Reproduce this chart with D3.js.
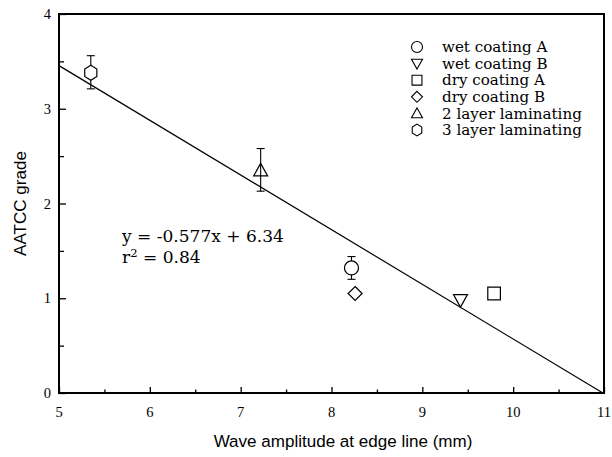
<!DOCTYPE html>
<html>
<head>
<meta charset="utf-8">
<script src="https://cdn.jsdelivr.net/npm/d3@7"></script>
<style>
    body { margin: 0; background: #fff; }
    svg { display: block; }
</style>
</head>
<body>
<div id="chart"></div>
<script>
"use strict";

// data
const seriesNames = ["wet coating A", "wet coating B", "dry coating A", "dry coating B", "2 layer laminating", "3 layer laminating"];
const seriesShapes = ["circle", "triangleDown", "square", "diamond", "triangleUp", "hexagon"];
const xValues = [8.22, 9.42, 9.79, 8.26, 7.22, 5.35];
const yValues = [1.32, 0.98, 1.05, 1.05, 2.35, 3.38];
const errLow = [1.20, null, null, null, 2.13, 3.21];
const errHigh = [1.44, null, null, null, 2.58, 3.56];

const xTicks = [5, 6, 7, 8, 9, 10, 11];
const yTicks = [0, 1, 2, 3, 4];
const fitSlope = -0.577;
const fitIntercept = 6.34;
const fitLabels = ["y = -0.577x + 6.34", "r", "2", " = 0.84"];

(function () {
    const width = 612;
    const height = 457;
    const serif = "'DejaVu Serif', serif";
    const sans = "'Liberation Sans', Arial, sans-serif";

    const x = d3.scaleLinear().domain([5, 11]).range([59, 604]);
    const y = d3.scaleLinear().domain([0, 4]).range([393, 14]);

    const svg = d3.select("#chart").append("svg")
        .attr("width", width)
        .attr("height", height);

    // shape paths centred at 0,0, r = half width
    function shapePath(kind, r) {
        const p = d3.path();
        if (kind === "circle") {
            p.arc(0, 0, r, 0, 2 * Math.PI);
        } else if (kind === "square") {
            p.rect(-r * 0.9, -r * 0.9, r * 1.8, r * 1.8);
        } else if (kind === "diamond") {
            p.moveTo(0, -r); p.lineTo(r, 0); p.lineTo(0, r); p.lineTo(-r, 0); p.closePath();
        } else if (kind === "triangleUp") {
            p.moveTo(0, -r); p.lineTo(r, r * 0.8); p.lineTo(-r, r * 0.8); p.closePath();
        } else if (kind === "triangleDown") {
            p.moveTo(0, r); p.lineTo(r, -r * 0.8); p.lineTo(-r, -r * 0.8); p.closePath();
        } else if (kind === "hexagon") {
            for (let i = 0; i < 6; i++) {
                const a = Math.PI / 6 + i * Math.PI / 3;
                const px = r * Math.cos(a), py = r * 1.08 * Math.sin(a);
                if (i === 0) p.moveTo(px, py); else p.lineTo(px, py);
            }
            p.closePath();
        }
        return p.toString();
    }

    // shrink/grow font so a text node spans the wanted width
    function fitWidth(sel, target) {
        const node = sel.node();
        const fs = parseFloat(sel.attr("font-size")) || parseFloat(getComputedStyle(node).fontSize);
        const w = node.getComputedTextLength();
        if (w > 0) sel.attr("font-size", fs * target / w);
    }

    // axes with inward ticks
    const xAxis = d3.axisBottom(x).tickValues(d3.range(5, 11.01, 0.5))
        .tickSize(0).tickFormat("");
    const gx = svg.append("g").attr("transform", `translate(0,${y(0)})`).call(xAxis);
    gx.select(".domain").remove();
    gx.selectAll(".tick line")
        .attr("y2", d => Number.isInteger(d) ? -6 : -3.5)
        .attr("stroke", "#000").attr("stroke-width", 1.3);

    const yAxis = d3.axisLeft(y).tickValues(d3.range(0, 4.01, 0.5))
        .tickSize(0).tickFormat("");
    const gy = svg.append("g").attr("transform", `translate(${x(5)},0)`).call(yAxis);
    gy.select(".domain").remove();
    gy.selectAll(".tick line")
        .attr("x2", d => Number.isInteger(d) ? 7 : 5)
        .attr("stroke", "#000").attr("stroke-width", 1.3);

    // tick labels
    svg.append("g").selectAll("text").data(xTicks).join("text")
        .attr("x", d => x(d))
        .attr("y", 417)
        .attr("text-anchor", "middle")
        .attr("font-family", "'Liberation Serif', 'Times New Roman', serif")
        .attr("font-size", 14.5)
        .text(d => d);

    svg.append("g").selectAll("text").data(yTicks).join("text")
        .attr("x", 51)
        .attr("y", d => y(d))
        .attr("dy", "0.35em")
        .attr("text-anchor", "end")
        .attr("font-family", "'Liberation Serif', 'Times New Roman', serif")
        .attr("font-size", 14.5)
        .text(d => d);

    // frame
    svg.append("rect")
        .attr("x", x(5)).attr("y", y(4))
        .attr("width", x(11) - x(5)).attr("height", y(0) - y(4))
        .attr("fill", "none").attr("stroke", "#000").attr("stroke-width", 2);

    // axis titles
    const xTitle = svg.append("text")
        .attr("x", 343).attr("y", 447)
        .attr("text-anchor", "middle")
        .attr("font-family", sans)
        .attr("font-size", 16)
        .text("Wave amplitude at edge line (mm)");
    fitWidth(xTitle, 259);

    svg.append("text")
        .attr("transform", `translate(26,${(y(0) + y(4)) / 2}) rotate(-90)`)
        .attr("text-anchor", "middle")
        .attr("font-family", sans)
        .attr("font-size", xTitle.attr("font-size"))
        .text("AATCC grade");

    // regression line
    const xEnd = -fitIntercept / fitSlope;
    svg.append("line")
        .attr("x1", x(5)).attr("y1", y(fitSlope * 5 + fitIntercept))
        .attr("x2", x(xEnd)).attr("y2", y(0))
        .attr("stroke", "#000").attr("stroke-width", 1.2);

    // error bars
    const idx = d3.range(seriesNames.length);
    const withErr = idx.filter(i => errLow[i] !== null);
    const eb = svg.append("g").attr("stroke", "#000").attr("stroke-width", 1.1);
    withErr.forEach(i => {
        const cx = x(xValues[i]);
        eb.append("line").attr("x1", cx).attr("x2", cx)
            .attr("y1", y(errLow[i])).attr("y2", y(errHigh[i]));
        [errLow[i], errHigh[i]].forEach(v => {
            eb.append("line").attr("x1", cx - 4).attr("x2", cx + 4)
                .attr("y1", y(v)).attr("y2", y(v));
        });
    });

    // markers
    svg.append("g").selectAll("path").data(idx).join("path")
        .attr("transform", i => `translate(${x(xValues[i])},${y(yValues[i])})`)
        .attr("d", i => shapePath(seriesShapes[i], 7))
        .attr("fill", i => seriesShapes[i] === "triangleUp" ? "none" : "#fff")
        .attr("stroke", "#000")
        .attr("stroke-width", 1.2);

    // legend
    const legend = svg.append("g");
    let legendFont = 13;
    idx.forEach(i => {
        const ly = 47 + i * 16.6;
        legend.append("path")
            .attr("transform", `translate(417,${ly})`)
            .attr("d", shapePath(seriesShapes[i], 5.5))
            .attr("fill", "none").attr("stroke", "#000").attr("stroke-width", 1.1);
        const t = legend.append("text")
            .attr("class", "legend-label")
            .attr("x", 442).attr("y", ly)
            .attr("dy", "0.35em")
            .attr("font-family", serif)
            .attr("font-size", legendFont)
            .text(seriesNames[i]);
        if (i === 4) {
            fitWidth(t, 140);
            legendFont = parseFloat(t.attr("font-size"));
        }
    });
    legend.selectAll(".legend-label").attr("font-size", legendFont);

    // fit equation
    const eq = svg.append("g").attr("font-family", serif);
    const t1 = eq.append("text").attr("x", 122).attr("y", 242)
        .attr("font-size", 15).text(fitLabels[0]);
    fitWidth(t1, 162);
    const eqFont = parseFloat(t1.attr("font-size"));
    const t2 = eq.append("text").attr("x", 122).attr("y", 263).attr("font-size", eqFont);
    t2.append("tspan").text(fitLabels[1]);
    t2.append("tspan").attr("dy", -6).attr("font-size", eqFont * 0.68).text(fitLabels[2]);
    t2.append("tspan").attr("dy", 6).text(fitLabels[3]);
})();
</script>
</body>
</html>
